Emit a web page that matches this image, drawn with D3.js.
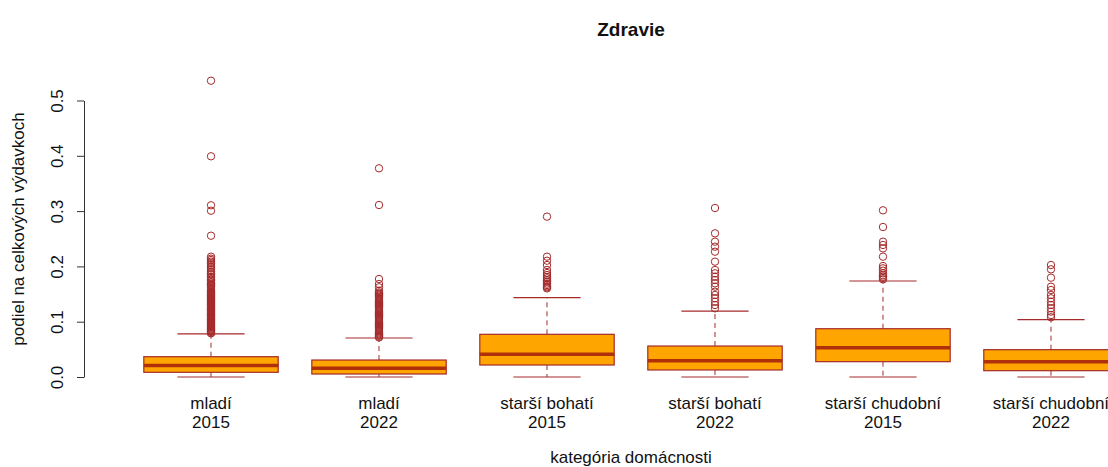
<!DOCTYPE html>
<head>
  <meta charset="utf-8">
  <title>Zdravie</title>
  <style>
    body { margin: 0; background: #fff; }
    text { font-family: "Liberation Sans", Arial, sans-serif; fill: #111; }
  </style>
</head>

<body>
  <script type="text/javascript" src="https://cdn.jsdelivr.net/npm/d3@7"></script>

  <script>
    // data
    var groups = ["mladí", "mladí", "starší bohatí", "starší bohatí", "starší chudobní", "starší chudobní"];
    var years = ["2015", "2022", "2015", "2022", "2015", "2022"];
    var q1 = [0.0085, 0.0054, 0.0217, 0.0127, 0.0277, 0.0114];
    var median = [0.0210, 0.0157, 0.0410, 0.0295, 0.0530, 0.0277];
    var q3 = [0.0367, 0.0307, 0.0772, 0.0560, 0.0873, 0.0494];
    var whiskerLow = [0, 0, 0, 0, 0, 0];
    var whiskerHigh = [0.0780, 0.0705, 0.1434, 0.1193, 0.1736, 0.1036];

    var outliers_mladi15 = [0.5358, 0.3991, 0.3105, 0.3007, 0.2555, 0.2176, 0.2140, 0.2115, 0.2085, 0.2055,
      0.2025, 0.1995, 0.1965, 0.1935, 0.1905, 0.1874, 0.1850, 0.1814, 0.1790, 0.1765, 0.1740, 0.1715,
      0.1690, 0.1670, 0.1650, 0.1630, 0.1610, 0.1590, 0.1570, 0.1550, 0.1535, 0.1520, 0.1505, 0.1490,
      0.1475, 0.1460, 0.1445, 0.1430, 0.1415, 0.1400, 0.1385, 0.1370, 0.1355, 0.1340, 0.1325, 0.1310,
      0.1295, 0.1280, 0.1265, 0.1250, 0.1235, 0.1220, 0.1205, 0.1190, 0.1175, 0.1160, 0.1145, 0.1130,
      0.1115, 0.1100, 0.1085, 0.1070, 0.1055, 0.1040, 0.1025, 0.1010, 0.0995, 0.0980, 0.0965, 0.0950,
      0.0935, 0.0920, 0.0905, 0.0890, 0.0875, 0.0860, 0.0845, 0.0830, 0.0815, 0.0800, 0.0790];
    var outliers_mladi22 = [0.3774, 0.3110, 0.1772, 0.1682, 0.1622, 0.1561, 0.1530, 0.1510, 0.1490,
      0.1470, 0.1450, 0.1430, 0.1410, 0.1390, 0.1370, 0.1350, 0.1330, 0.1310, 0.1290, 0.1270, 0.1250,
      0.1230, 0.1210, 0.1190, 0.1170, 0.1150, 0.1130, 0.1110, 0.1090, 0.1070, 0.1050, 0.1030, 0.1010,
      0.0990, 0.0970, 0.0950, 0.0930, 0.0910, 0.0890, 0.0870, 0.0850, 0.0830, 0.0810, 0.0790, 0.0770,
      0.0750, 0.0730, 0.0715];
    var outliers_bohati15 = [0.2900, 0.2176, 0.2103, 0.2025, 0.1935, 0.1880, 0.1844, 0.1810, 0.1784,
      0.1750, 0.1724, 0.1690, 0.1664, 0.1640, 0.1620, 0.1603];
    var outliers_bohati22 = [0.3056, 0.2598, 0.2447, 0.2357, 0.2266, 0.2086, 0.1935, 0.1874, 0.1814,
      0.1754, 0.1694, 0.1634, 0.1543, 0.1483, 0.1423, 0.1362, 0.1302, 0.1242];
    var outliers_chudobni15 = [0.3014, 0.2712, 0.2447, 0.2387, 0.2326, 0.2176, 0.2007, 0.1965, 0.1923,
      0.1874, 0.1840, 0.1814, 0.1790, 0.1766];
    var outliers_chudobni22 = [0.2025, 0.1947, 0.1796, 0.1633, 0.1573, 0.1483, 0.1423, 0.1362, 0.1302,
      0.1242, 0.1182, 0.1121, 0.1080];
    var outliers = [outliers_mladi15, outliers_mladi22, outliers_bohati15, outliers_bohati22,
      outliers_chudobni15, outliers_chudobni22];

    var yTicks = [0.0, 0.1, 0.2, 0.3, 0.4, 0.5];

    var title = "Zdravie",
      xTitle = "kategória domácnosti",
      yTitle = "podiel na celkových výdavkoch";

    // dimensions
    var width = 1108, height = 467;
    var boxCol = "#FFA500", lineCol = "#A52A2A";

    var svg = d3.select("body")
      .append("svg")
      .attr("width", width)
      .attr("height", height);

    // scales (x in box index units like R, 1..6)
    var xScale = d3.scaleLinear().domain([0.26, 6.74]).range([86.7, 1175.3]),
      yScale = d3.scaleLinear().domain([0, 0.5]).range([377, 100.5]);

    var unit = xScale(2) - xScale(1);
    var boxW = unit * 0.8;
    var capW = boxW / 2;

    var dataset = [];
    for (let i = 0; i < groups.length; i++) {
      dataset.push({
        pos: i + 1,
        q1: q1[i], med: median[i], q3: q3[i],
        lo: whiskerLow[i], hi: whiskerHigh[i],
        out: outliers[i]
      });
    }

    var boxes = svg.append("g").attr("id", "boxes")
      .selectAll("g")
      .data(dataset)
      .enter()
      .append("g");

    // dashed whiskers
    boxes.append("line")
      .attr("x1", d => xScale(d.pos)).attr("x2", d => xScale(d.pos))
      .attr("y1", d => yScale(d.q3)).attr("y2", d => yScale(d.hi))
      .attr("stroke", lineCol).attr("stroke-width", 1)
      .attr("stroke-dasharray", "5,4");
    boxes.append("line")
      .attr("x1", d => xScale(d.pos)).attr("x2", d => xScale(d.pos))
      .attr("y1", d => yScale(d.q1)).attr("y2", d => yScale(d.lo))
      .attr("stroke", lineCol).attr("stroke-width", 1)
      .attr("stroke-dasharray", "5,4");

    // staples
    boxes.append("line")
      .attr("x1", d => xScale(d.pos) - capW / 2).attr("x2", d => xScale(d.pos) + capW / 2)
      .attr("y1", d => yScale(d.hi)).attr("y2", d => yScale(d.hi))
      .attr("stroke", lineCol).attr("stroke-width", 1.2);
    boxes.append("line")
      .attr("x1", d => xScale(d.pos) - capW / 2).attr("x2", d => xScale(d.pos) + capW / 2)
      .attr("y1", d => yScale(d.lo)).attr("y2", d => yScale(d.lo))
      .attr("stroke", lineCol).attr("stroke-width", 1.2);

    // box
    boxes.append("rect")
      .attr("x", d => xScale(d.pos) - boxW / 2)
      .attr("y", d => yScale(d.q3))
      .attr("width", boxW)
      .attr("height", d => yScale(d.q1) - yScale(d.q3))
      .attr("fill", boxCol)
      .attr("stroke", lineCol)
      .attr("stroke-width", 1.2);

    // median
    boxes.append("line")
      .attr("x1", d => xScale(d.pos) - boxW / 2).attr("x2", d => xScale(d.pos) + boxW / 2)
      .attr("y1", d => yScale(d.med)).attr("y2", d => yScale(d.med))
      .attr("stroke", "#B0300A").attr("stroke-width", 3.5);

    // outliers
    boxes.each(function (d) {
      d3.select(this).selectAll("circle")
        .data(d.out)
        .enter()
        .append("circle")
        .attr("cx", xScale(d.pos))
        .attr("cy", v => yScale(v))
        .attr("r", 3.7)
        .attr("fill", "none")
        .attr("stroke", lineCol)
        .attr("stroke-width", 1);
    });

    // y axis
    var yAxis = svg.append("g")
      .attr("id", "y-axis")
      .attr("transform", "translate(84,0)")
      .call(d3.axisLeft(yScale).tickValues(yTicks).tickSize(7).tickSizeOuter(0)
        .tickFormat(d3.format(".1f")));
    yAxis.select(".domain").attr("stroke", "#333");
    yAxis.selectAll(".tick line").attr("stroke", "#333");
    yAxis.selectAll(".tick text")
      .attr("x", 0).attr("dy", 0)
      .attr("transform", "translate(-21,0) rotate(-90)")
      .attr("text-anchor", "middle")
      .style("font-family", "Liberation Sans, Arial, sans-serif")
      .style("font-size", "17px")
      .attr("fill", "#111");

    // x labels (two lines)
    var xLab = svg.append("g").attr("id", "x-labels")
      .selectAll("text")
      .data(dataset)
      .enter()
      .append("text")
      .attr("text-anchor", "middle")
      .style("font-size", "17px");
    xLab.append("tspan")
      .attr("x", d => xScale(d.pos)).attr("y", 408.5)
      .text((d, i) => groups[i]);
    xLab.append("tspan")
      .attr("x", d => xScale(d.pos)).attr("y", 428)
      .text((d, i) => years[i]);

    // titles
    svg.append("text")
      .attr("x", 631).attr("y", 36)
      .attr("text-anchor", "middle")
      .style("font-size", "19px")
      .style("font-weight", "bold")
      .text(title);

    svg.append("text")
      .attr("x", 631).attr("y", 463)
      .attr("text-anchor", "middle")
      .style("font-size", "17px")
      .text(xTitle);

    svg.append("text")
      .attr("transform", "translate(24,229) rotate(-90)")
      .attr("text-anchor", "middle")
      .style("font-size", "17px")
      .text(yTitle);
  </script>
</body>
